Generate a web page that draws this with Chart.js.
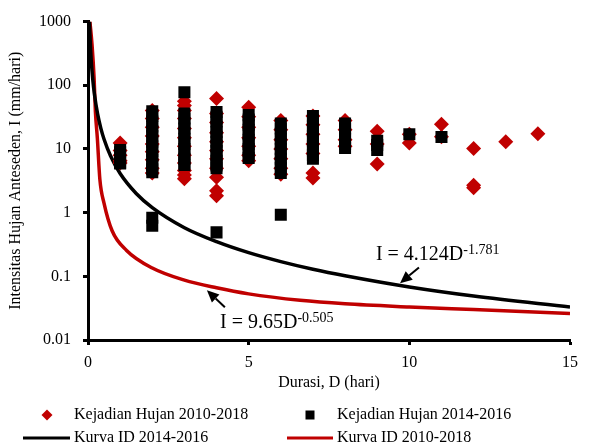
<!DOCTYPE html>
<html>
<head>
<meta charset="utf-8">
<script src="https://cdn.jsdelivr.net/npm/chart.js@4.4.0/dist/chart.umd.min.js"></script>
<style>
  html, body { margin: 0; padding: 0; background: #fff; }
</style>
</head>
<body>
<canvas id="myChart" width="598" height="447"></canvas>
<script>
// durasi (hari) of the rain events
var durasi = [1, 2, 3, 4, 5, 6, 7, 8, 9, 10, 11, 12, 13, 14];

// Kejadian Hujan 2010-2018 (mm/hari), one list per durasi
var hujan2010 = [
    [12.4, 9.5, 8, 6.5, 6],
    [40, 30, 22, 16, 12, 9, 6.8, 5, 4.2],
    [56, 48, 40, 30, 21, 15, 11, 8, 6, 4.6, 3.9, 3.4],
    [62, 36, 26, 18, 13, 9.5, 7, 5, 3.6, 2.2, 1.85],
    [45, 32, 22, 15, 11, 8, 6.5],
    [28, 20, 14, 10, 7, 5, 4],
    [33, 24, 17, 12, 8.5, 4.2, 3.5],
    [28, 20, 14, 11],
    [19, 12, 5.8],
    [17, 12.4],
    [24.5, 15.5],
    [10.2, 2.7, 2.45],
    [13],
    [17.3]
];

// Kejadian Hujan 2014-2016 (mm/hari), one list per durasi
var hujan2014 = [
    [9.6, 8.9, 6.1, 5.9],
    [39, 33, 27, 22.5, 19, 16, 13, 11, 9.3, 7.8, 6.7, 5.6, 4.8, 4.3, 0.83, 0.62],
    [78, 36, 30, 25, 21, 17.5, 14.5, 12, 10, 8.5, 7, 6, 5.6],
    [38, 32, 27, 22, 18.5, 15.5, 13, 11, 9.3, 7.8, 6.5, 5.5, 5.0, 0.49],
    [34, 29, 24, 20, 17, 14, 12, 10, 8.5, 7.2],
    [25, 21, 17.5, 14.5, 12, 10, 8.5, 7, 6, 5, 4.2, 0.93],
    [33, 28, 23, 19, 16, 13.5, 11, 9.5, 8, 7],
    [25, 21, 17.5, 14.5, 12, 10.4],
    [13.4, 11.5, 9.6],
    [17],
    [15.4],
    [],
    [],
    []
];

// Kurva ID 2014-2016
var kurva2014D = [0.046, 0.06, 0.08, 0.1, 0.15, 0.2, 0.3, 0.4, 0.5, 0.7, 1, 1.5, 2, 3, 4, 5, 6, 7, 8, 10, 12, 15];
var kurva2014I = [1000, 619, 371, 249, 121, 72.5, 35.2, 21.1, 14.2, 7.8, 4.12, 2.0, 1.2, 0.58, 0.35, 0.235, 0.17, 0.129, 0.102, 0.068, 0.049, 0.033];

// Kurva ID 2010-2018
var kurva2010D = [0.06, 0.125, 0.19, 0.23, 0.29, 0.37, 0.5, 0.75, 1.2, 2, 3, 4, 5, 6.6, 8, 10, 12, 15];
var kurva2010I = [1000, 437, 129, 39, 15, 3.3, 1.4, 0.52, 0.255, 0.135, 0.087, 0.066, 0.053, 0.042, 0.037, 0.033, 0.030, 0.026];

var xTicks = [0, 5, 10, 15];
var yTicks = [0.01, 0.1, 1, 10, 100, 1000];

var SERIF = "'Liberation Serif', 'Times New Roman', serif";
var RED = '#c00000';

function stackPoints(days, groups) {
    var pts = [];
    groups.forEach(function (g, i) {
        g.forEach(function (v) { pts.push({ x: days[i], y: v }); });
    });
    return pts;
}

function curvePoints(xs, ys) {
    return xs.map(function (v, i) { return { x: v, y: ys[i] }; });
}

function arrow(ctx, x1, y1, x2, y2) {
    var ang = Math.atan2(y2 - y1, x2 - x1);
    var len = 12, half = 5.5;
    var bx = x2 - Math.cos(ang) * len, by = y2 - Math.sin(ang) * len;
    ctx.lineWidth = 2;
    ctx.strokeStyle = '#000';
    ctx.beginPath();
    ctx.moveTo(x1, y1);
    ctx.lineTo(bx, by);
    ctx.stroke();
    ctx.fillStyle = '#000';
    ctx.beginPath();
    ctx.moveTo(x2, y2);
    ctx.lineTo(bx + Math.sin(ang) * half, by - Math.cos(ang) * half);
    ctx.lineTo(bx - Math.sin(ang) * half, by + Math.cos(ang) * half);
    ctx.closePath();
    ctx.fill();
}

function equation(ctx, main, sup, x, y) {
    ctx.fillStyle = '#000';
    ctx.textAlign = 'left';
    ctx.textBaseline = 'alphabetic';
    ctx.font = '20px ' + SERIF;
    ctx.fillText(main, x, y);
    var w = ctx.measureText(main).width;
    ctx.font = '14px ' + SERIF;
    ctx.fillText(sup, x + w, y - 6);
}

var notes = {
    id: 'notes',
    afterDatasetsDraw: function (chart) {
        var ctx = chart.ctx, sx = chart.scales.x, sy = chart.scales.y;
        ctx.save();
        equation(ctx, 'I = 4.124D', '-1.781', sx.getPixelForValue(8.96), sy.getPixelForValue(0.178));
        arrow(ctx, sx.getPixelForValue(10.3), sy.getPixelForValue(0.138), sx.getPixelForValue(9.71), sy.getPixelForValue(0.0778));
        equation(ctx, 'I = 9.65D', '-0.505', sx.getPixelForValue(4.11), sy.getPixelForValue(0.0154));
        arrow(ctx, sx.getPixelForValue(4.26), sy.getPixelForValue(0.0328), sx.getPixelForValue(3.7), sy.getPixelForValue(0.0604));
        ctx.restore();
    }
};

// two column legend under the axis title
var legendBox = {
    id: 'legendBox',
    afterDraw: function (chart) {
        var ctx = chart.ctx, ds = chart.data.datasets;
        ctx.save();
        ctx.font = '16px ' + SERIF;
        ctx.textBaseline = 'middle';
        ctx.textAlign = 'left';
        // red diamond
        ctx.fillStyle = ds[0].backgroundColor;
        ctx.beginPath();
        ctx.moveTo(47, 409.5); ctx.lineTo(52.5, 415); ctx.lineTo(47, 420.5); ctx.lineTo(41.5, 415);
        ctx.closePath();
        ctx.fill();
        // black square
        ctx.fillStyle = ds[1].backgroundColor;
        ctx.fillRect(305.5, 410.5, 9, 9);
        // lines
        ctx.lineWidth = 3;
        ctx.strokeStyle = ds[2].borderColor;
        ctx.beginPath(); ctx.moveTo(23, 438); ctx.lineTo(70, 438); ctx.stroke();
        ctx.strokeStyle = ds[3].borderColor;
        ctx.beginPath(); ctx.moveTo(287, 438); ctx.lineTo(333, 438); ctx.stroke();
        ctx.fillStyle = '#000';
        ctx.fillText(ds[0].label, 74, 415);
        ctx.fillText(ds[1].label, 337, 415);
        ctx.fillText(ds[2].label, 74, 438);
        ctx.fillText(ds[3].label, 337, 438);
        ctx.restore();
    }
};

var ctx = document.getElementById('myChart');
var myChart = new Chart(ctx, {
    type: 'scatter',
    data: {
        datasets: [{
            label: 'Kejadian Hujan 2010-2018',
            data: stackPoints(durasi, hujan2010),
            pointStyle: 'rectRot',
            pointRadius: 7.5,
            backgroundColor: RED,
            borderWidth: 0,
            order: 1
        },
        {
            label: 'Kejadian Hujan 2014-2016',
            data: stackPoints(durasi, hujan2014),
            pointStyle: 'rect',
            pointRadius: 8.5,
            backgroundColor: '#000',
            borderWidth: 0,
            order: 0
        },
        {
            label: 'Kurva ID 2014-2016',
            data: curvePoints(kurva2014D, kurva2014I),
            showLine: true,
            pointRadius: 0,
            borderColor: '#000',
            backgroundColor: '#000',
            borderWidth: 3.5,
            cubicInterpolationMode: 'monotone',
            order: 2
        },
        {
            label: 'Kurva ID 2010-2018',
            data: curvePoints(kurva2010D, kurva2010I),
            showLine: true,
            pointRadius: 0,
            borderColor: RED,
            backgroundColor: RED,
            borderWidth: 3.5,
            cubicInterpolationMode: 'monotone',
            order: 3
        }
        ]
    },
    options: {
        responsive: false,
        animation: false,
        layout: { padding: { left: 0, right: 28, top: 20, bottom: 55 } },
        plugins: {
            legend: { display: false },
            tooltip: { enabled: false }
        },
        scales: {
            x: {
                type: 'linear',
                min: 0,
                max: 15,
                afterBuildTicks: function (s) { s.ticks = xTicks.map(function (v) { return { value: v }; }); },
                afterFit: function (s) { s.height = 52; },
                grid: { display: true, drawOnChartArea: false, drawTicks: true, tickLength: 5, tickWidth: 3, tickColor: '#000', color: '#000' },
                border: { display: true, color: '#000', width: 3 },
                ticks: { color: '#000', font: { family: SERIF, size: 16 }, padding: 8, maxRotation: 0 },
                title: { display: true, text: 'Durasi, D (hari)', color: '#000', font: { family: SERIF, size: 16 }, padding: { top: 0, bottom: 0 } }
            },
            y: {
                type: 'logarithmic',
                min: 0.01,
                max: 1000,
                afterBuildTicks: function (s) { s.ticks = yTicks.map(function (v) { return { value: v }; }); },
                afterFit: function (s) { s.width = 88; },
                grid: { display: true, drawOnChartArea: false, drawTicks: true, tickLength: 5, tickWidth: 3, tickColor: '#000', color: '#000' },
                border: { display: true, color: '#000', width: 3 },
                ticks: { color: '#000', font: { family: SERIF, size: 16 }, padding: 12, callback: function (v) { return String(v); } },
                title: { display: true, text: 'Intensitas Hujan Anteseden, I (mm/hari)', color: '#000', font: { family: SERIF, size: 16 }, padding: { top: 6, bottom: 0 } }
            }
        }
    },
    plugins: [notes, legendBox]
});
</script>
</body>
</html>
